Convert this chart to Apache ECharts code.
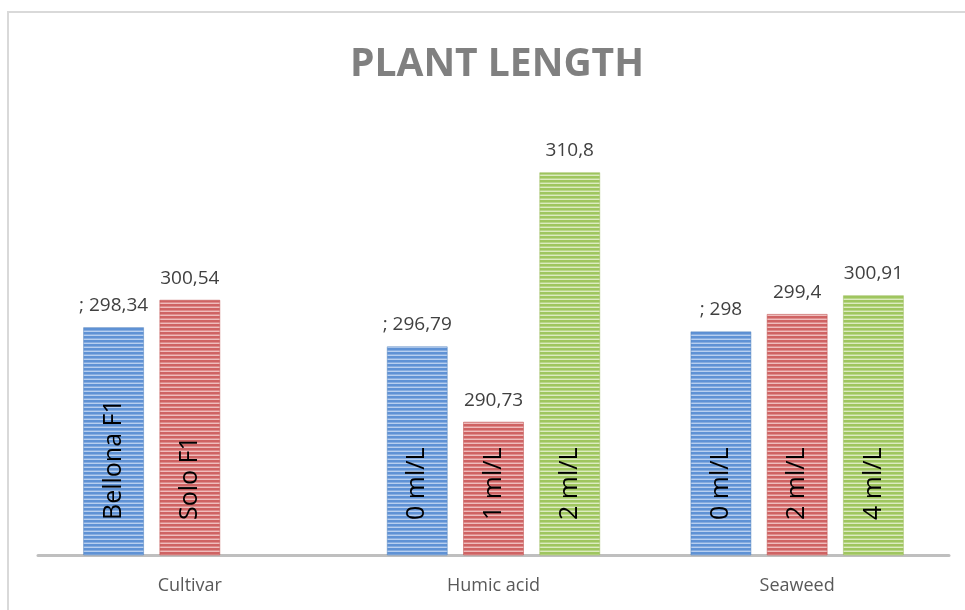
<!DOCTYPE html>
<html>
<head>
<meta charset="utf-8">
<script src="https://cdn.jsdelivr.net/npm/echarts@6/dist/echarts.min.js"></script>
<style>
  html, body { margin: 0; padding: 0; background: #fff; overflow: hidden; }
  #frame {
    position: absolute; left: 7px; top: 11px; width: 1000px; height: 700px;
    border-top: 2px solid #d9d9d9; border-left: 2px solid #d9d9d9;
  }
  #chart { position: absolute; left: 0; top: 0; width: 965px; height: 610px; }
</style>
</head>
<body>
<div id="frame"></div>
<div id="chart"></div>
<script>
const categories = ['Cultivar', 'Humic acid', 'Seaweed']

// values per colour series (Cultivar has no third bar)
const blueValues = [298.34, 296.79, 298]
const redValues = [300.54, 290.73, 299.4]
const greenValues = [null, 310.8, 300.91]

// text shown above each bar
const blueTop = ['; 298,34', '; 296,79', '; 298']
const redTop = ['300,54', '290,73', '299,4']
const greenTop = ['', '310,8', '300,91']

// text written inside each bar
const blueInside = ['Bellona F1', '0 ml/L', '0 ml/L']
const redInside = ['Solo F1', '1 ml/L', '2 ml/L']
const greenInside = ['', '2 ml/L', '4 ml/L']

function stripes(dark, mid, light) {
  const c = document.createElement('canvas')
  c.width = 4
  c.height = 4
  const ctx = c.getContext('2d')
  ctx.fillStyle = dark
  ctx.fillRect(0, 0, 4, 2)
  ctx.fillStyle = mid
  ctx.fillRect(0, 2, 4, 1)
  ctx.fillStyle = light
  ctx.fillRect(0, 3, 4, 1)
  return { image: c, repeat: 'repeat' }
}

function makeSeries(values, topText, insideText, fill, edge) {
  return {
    type: 'bar',
    barWidth: 61,
    barGap: '25%',
    silent: true,
    data: values.map((v, i) => ({
      value: v,
      topText: topText[i],
      insideText: insideText[i]
    })),
    itemStyle: {
      color: fill,
      borderColor: edge,
      borderWidth: 1
    },
    label: {
      show: true,
      position: 'top',
      distance: 12,
      color: '#404040',
      fontFamily: 'Open Sans',
      fontSize: 19,
      formatter: (p) => p.data.topText
    }
  }
}

const series = [
  makeSeries(blueValues, blueTop, blueInside,
    stripes('#5f92d5', '#86acdf', '#b7cff0'), 'rgba(79,129,189,0.5)'),
  makeSeries(redValues, redTop, redInside,
    stripes('#cf6363', '#de8c8c', '#efbcbc'), 'rgba(192,80,77,0.5)'),
  makeSeries(greenValues, greenTop, greenInside,
    stripes('#9fc65f', '#b9d689', '#dcebc0'), 'rgba(155,187,89,0.5)')
]

// rotated labels inside the bars, drawn by a transparent copy on a twin grid
const overlay = series.map((s) => ({
  type: 'bar',
  barWidth: 61,
  barGap: '25%',
  xAxisIndex: 1,
  yAxisIndex: 1,
  silent: true,
  itemStyle: { color: 'transparent' },
  data: s.data.map((d) => ({ value: d.value, insideText: d.insideText })),
  label: {
    show: true,
    position: 'insideBottom',
    rotate: 90,
    align: 'left',
    verticalAlign: 'middle',
    distance: 35,
    color: '#000',
    fontFamily: 'Open Sans',
    fontSize: 25,
    formatter: (p) => p.data.insideText
  }
}))

const chart = echarts.init(document.getElementById('chart'))

chart.setOption({
  animation: false,
  title: {
    text: 'PLANT LENGTH',
    left: 492,
    top: 40,
    textAlign: 'center',
    textStyle: {
      fontFamily: 'Open Sans',
      fontWeight: 'bold',
      fontSize: 39,
      color: '#808080'
    }
  },
  grid: [
    { left: 38, right: 16, top: 120, bottom: 55 },
    { left: 38, right: 16, top: 120, bottom: 55 }
  ],
  xAxis: [
    {
      type: 'category',
      gridIndex: 0,
      data: categories,
      axisTick: { show: false },
      axisLine: { lineStyle: { color: '#bfbfbf', width: 3 } },
      axisLabel: {
        color: '#595959',
        fontFamily: 'Open Sans',
        fontSize: 18,
        margin: 22
      }
    },
    {
      type: 'category',
      gridIndex: 1,
      data: categories,
      show: false
    }
  ],
  yAxis: [
    { type: 'value', gridIndex: 0, min: 280, max: 315, show: false },
    { type: 'value', gridIndex: 1, min: 280, max: 315, show: false }
  ],
  series: series.concat(overlay)
})
</script>
</body>
</html>
